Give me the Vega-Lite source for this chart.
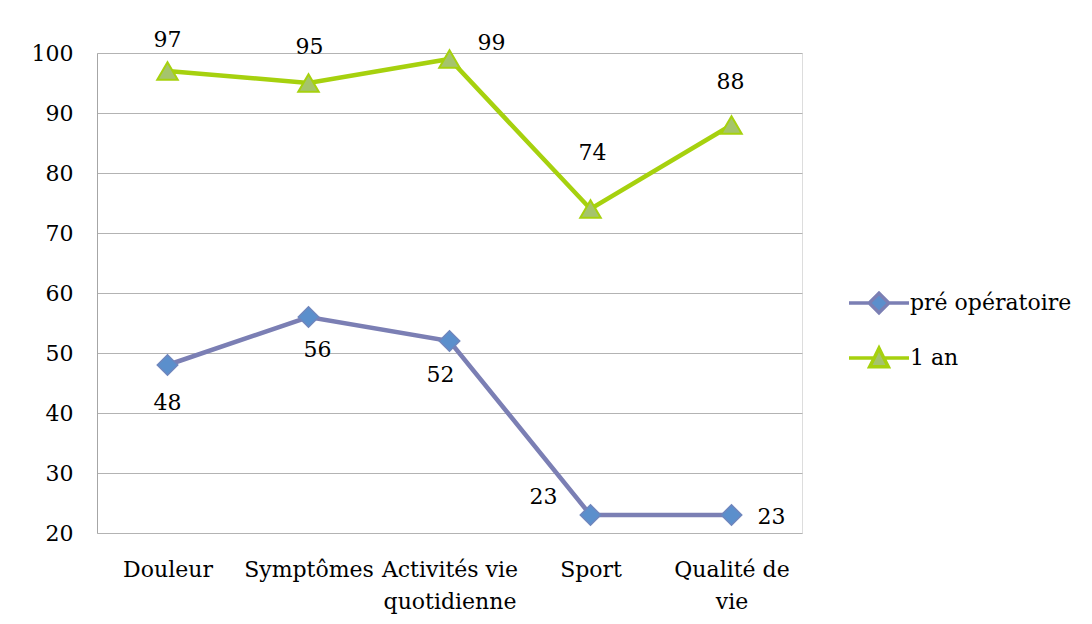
{
  "$schema": "https://vega.github.io/schema/vega-lite/v6.json",
  "width": 705,
  "height": 480,
  "autosize": {"type": "none"},
  "padding": {"left": 97, "top": 53, "right": 290, "bottom": 91},
  "background": "white",
  "data": {"values": [
    {"cat": "Douleur", "series": "pré opératoire", "value": 48},
    {"cat": "Symptômes", "series": "pré opératoire", "value": 56},
    {"cat": "Activités vie quotidienne", "series": "pré opératoire", "value": 52},
    {"cat": "Sport", "series": "pré opératoire", "value": 23},
    {"cat": "Qualité de vie", "series": "pré opératoire", "value": 23},
    {"cat": "Douleur", "series": "1 an", "value": 97},
    {"cat": "Symptômes", "series": "1 an", "value": 95},
    {"cat": "Activités vie quotidienne", "series": "1 an", "value": 99},
    {"cat": "Sport", "series": "1 an", "value": 74},
    {"cat": "Qualité de vie", "series": "1 an", "value": 88}
  ]},
  "encoding": {
    "x": {
      "field": "cat", "type": "nominal", "sort": null,
      "scale": {"type": "point", "padding": 0.5},
      "axis": {
        "title": null, "grid": false, "ticks": false, "domain": false,
        "labelAngle": 0, "labelFont": "DejaVu Serif", "labelFontSize": 22,
        "labelColor": "black", "labelPadding": 26, "labelLineHeight": 32,
        "labelBaseline": "top",
        "labelExpr": "datum.label == 'Activités vie quotidienne' ? ['Activités vie', 'quotidienne'] : datum.label == 'Qualité de vie' ? ['Qualité de', 'vie'] : datum.label"
      }
    },
    "y": {
      "field": "value", "type": "quantitative",
      "scale": {"domain": [20, 100], "nice": false, "zero": false},
      "axis": {
        "title": null, "values": [20, 30, 40, 50, 60, 70, 80, 90, 100],
        "ticks": false, "domainColor": "#a6a6a6", "gridColor": "#b3b3b3",
        "labelFont": "DejaVu Serif", "labelFontSize": 22, "labelColor": "black",
        "labelPadding": 24
      }
    }
  },
  "layer": [
    {
      "mark": {"type": "line", "strokeWidth": 4.5},
      "encoding": {
        "color": {
          "field": "series", "type": "nominal",
          "scale": {"domain": ["pré opératoire", "1 an"], "range": ["#7b7fb4", "#a6d10e"]},
          "legend": {
            "title": null, "orient": "none", "legendX": 765, "legendY": 233,
            "symbolSize": 900, "symbolStrokeWidth": 3.5, "labelOffset": 14,
            "rowPadding": 21, "padding": 0, "labelLimit": 300,
            "labelFont": "DejaVu Serif", "labelFontSize": 22, "labelColor": "black",
            "encode": {
              "symbols": {
                "update": {
                  "shape": {"signal": "datum.value === 'pré opératoire' ? 'M-2,0L-0.65,0L0,-0.65L0.65,0L2,0L0.65,0L0,0.65L-0.65,0Z' : 'M-2,0L-0.32,0L0,-0.65L0.32,0L2,0L0.32,0L0.62,0.58L-0.62,0.58L-0.32,0Z'"},
                  "fill": {"signal": "datum.value === 'pré opératoire' ? '#5b8fcc' : '#a5c46c'"},
                  "fillOpacity": {"value": 1},
                  "strokeWidth": {"value": 3.5}
                }
              }
            }
          }
        }
      }
    },
    {
      "transform": [{"filter": "datum.series == 'pré opératoire'"}],
      "mark": {"type": "point", "shape": "diamond", "filled": true, "size": 420, "fill": "#5b8fcc", "stroke": "#6f86bd", "strokeWidth": 1.5, "opacity": 1}
    },
    {
      "transform": [{"filter": "datum.series == '1 an'"}],
      "mark": {"type": "point", "shape": "triangle-up", "filled": true, "size": 420, "fill": "#a5c46c", "stroke": "#a6d10e", "strokeWidth": 2, "opacity": 1}
    },
    {"transform": [{"filter": "datum.series == '1 an' && datum.cat == 'Douleur'"}], "mark": {"type": "text", "dy": -31, "font": "DejaVu Serif", "fontSize": 22, "color": "black", "baseline": "middle"}, "encoding": {"text": {"field": "value"}}},
    {"transform": [{"filter": "datum.series == '1 an' && datum.cat == 'Symptômes'"}], "mark": {"type": "text", "dx": 1, "dy": -36, "font": "DejaVu Serif", "fontSize": 22, "color": "black", "baseline": "middle"}, "encoding": {"text": {"field": "value"}}},
    {"transform": [{"filter": "datum.series == '1 an' && datum.cat == 'Activités vie quotidienne'"}], "mark": {"type": "text", "dx": 42, "dy": -16, "font": "DejaVu Serif", "fontSize": 22, "color": "black", "baseline": "middle"}, "encoding": {"text": {"field": "value"}}},
    {"transform": [{"filter": "datum.series == '1 an' && datum.cat == 'Sport'"}], "mark": {"type": "text", "dx": 2, "dy": -56, "font": "DejaVu Serif", "fontSize": 22, "color": "black", "baseline": "middle"}, "encoding": {"text": {"field": "value"}}},
    {"transform": [{"filter": "datum.series == '1 an' && datum.cat == 'Qualité de vie'"}], "mark": {"type": "text", "dx": -1, "dy": -43, "font": "DejaVu Serif", "fontSize": 22, "color": "black", "baseline": "middle"}, "encoding": {"text": {"field": "value"}}},
    {"transform": [{"filter": "datum.series == 'pré opératoire' && datum.cat == 'Douleur'"}], "mark": {"type": "text", "dy": 38, "font": "DejaVu Serif", "fontSize": 22, "color": "black", "baseline": "middle"}, "encoding": {"text": {"field": "value"}}},
    {"transform": [{"filter": "datum.series == 'pré opératoire' && datum.cat == 'Symptômes'"}], "mark": {"type": "text", "dx": 9, "dy": 33, "font": "DejaVu Serif", "fontSize": 22, "color": "black", "baseline": "middle"}, "encoding": {"text": {"field": "value"}}},
    {"transform": [{"filter": "datum.series == 'pré opératoire' && datum.cat == 'Activités vie quotidienne'"}], "mark": {"type": "text", "dx": -9, "dy": 34, "font": "DejaVu Serif", "fontSize": 22, "color": "black", "baseline": "middle"}, "encoding": {"text": {"field": "value"}}},
    {"transform": [{"filter": "datum.series == 'pré opératoire' && datum.cat == 'Sport'"}], "mark": {"type": "text", "dx": -47, "dy": -18, "font": "DejaVu Serif", "fontSize": 22, "color": "black", "baseline": "middle"}, "encoding": {"text": {"field": "value"}}},
    {"transform": [{"filter": "datum.series == 'pré opératoire' && datum.cat == 'Qualité de vie'"}], "mark": {"type": "text", "dx": 40, "dy": 2, "font": "DejaVu Serif", "fontSize": 22, "color": "black", "baseline": "middle"}, "encoding": {"text": {"field": "value"}}}
  ]
}
